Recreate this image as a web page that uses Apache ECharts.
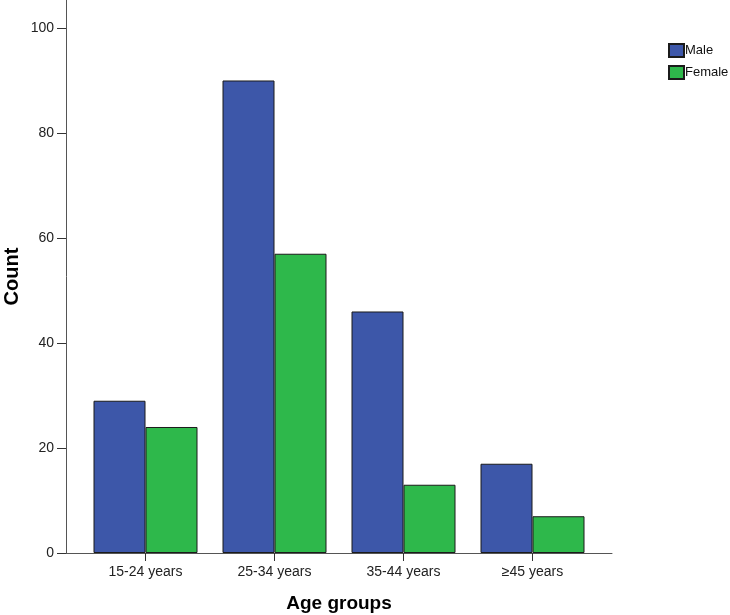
<!DOCTYPE html>
<html>
<head>
<meta charset="utf-8">
<script src="https://cdn.jsdelivr.net/npm/echarts@6/dist/echarts.min.js"></script>
<style>
html,body{margin:0;padding:0;background:#fff;}
#chart{width:730px;height:615px;}
</style>
</head>
<body>
<div id="chart"></div>
<script>
const categories = ['15-24 years', '25-34 years', '35-44 years', '≥45 years'];
const maleValues = [29, 90, 46, 17];
const femaleValues = [24, 57, 13, 7];
const yTicks = [0, 20, 40, 60, 80, 100];
const seriesNames = ['Male', 'Female'];

const FONT = '"Liberation Sans", Arial, sans-serif';
const chart = echarts.init(document.getElementById('chart'), null, {renderer: 'canvas'});
const option = {
  animation: false,
  backgroundColor: '#ffffff',
  textStyle: {fontFamily: FONT},
  grid: [
    {left: 81, right: 133, top: 0, bottom: 62, containLabel: false, outerBoundsMode: 'none'},
    {left: 66, right: 118, top: 0, bottom: 62, containLabel: false, outerBoundsMode: 'none'}
  ],
  legend: {
    orient: 'vertical',
    left: 668,
    top: 43,
    padding: 0,
    icon: 'rect',
    itemWidth: 15,
    itemHeight: 13,
    itemGap: 7,
    data: seriesNames,
    textStyle: {fontFamily: FONT, fontSize: 13, color: '#111', padding: [0, 0, 0, -4]}
  },
  xAxis: [
    {
      type: 'category',
      gridIndex: 0,
      data: categories,
      name: 'Age groups',
      nameLocation: 'middle',
      nameGap: 41,
      nameMoveOverlap: false,
      nameTextStyle: {fontFamily: FONT, fontSize: 19, fontWeight: 'bold', color: '#000'},
      axisLine: {show: true, lineStyle: {color: '#555', width: 1}},
      axisTick: {show: true, alignWithLabel: true, length: 8, lineStyle: {color: '#333'}},
      axisLabel: {fontFamily: FONT, fontSize: 14, color: '#222', margin: 12},
      splitLine: {show: false}
    },
    {
      type: 'value',
      gridIndex: 1,
      min: 0,
      max: 1,
      axisLine: {show: true, lineStyle: {color: '#555', width: 1}},
      axisTick: {show: false},
      axisLabel: {show: false},
      splitLine: {show: false}
    }
  ],
  yAxis: [
    {
      type: 'value',
      gridIndex: 0,
      min: 0,
      max: 105.33,
      interval: 20,
      offset: 15,
      name: 'Count',
      nameLocation: 'middle',
      nameGap: 44,
      nameMoveOverlap: false,
      nameRotate: 90,
      nameTextStyle: {fontFamily: FONT, fontSize: 20, fontWeight: 'bold', color: '#000'},
      axisLine: {show: true, lineStyle: {color: '#555', width: 1}},
      axisTick: {show: true, length: 9, customValues: yTicks, lineStyle: {color: '#333'}},
      axisLabel: {fontFamily: FONT, fontSize: 14, color: '#222', margin: 12, customValues: yTicks},
      splitLine: {show: false}
    },
    {
      type: 'value',
      gridIndex: 1,
      min: 0,
      max: 1,
      show: false
    }
  ],
  series: [
    {
      name: seriesNames[0],
      type: 'bar',
      xAxisIndex: 0,
      yAxisIndex: 0,
      data: maleValues,
      barWidth: 52,
      barGap: '0%',
      itemStyle: {color: '#3d57a9', borderColor: '#1b1b1b', borderWidth: 1}
    },
    {
      name: seriesNames[1],
      type: 'bar',
      xAxisIndex: 0,
      yAxisIndex: 0,
      data: femaleValues,
      barWidth: 52,
      barGap: '0%',
      itemStyle: {color: '#2eb84b', borderColor: '#1b1b1b', borderWidth: 1}
    }
  ]
};
chart.setOption(option);
</script>
</body>
</html>
